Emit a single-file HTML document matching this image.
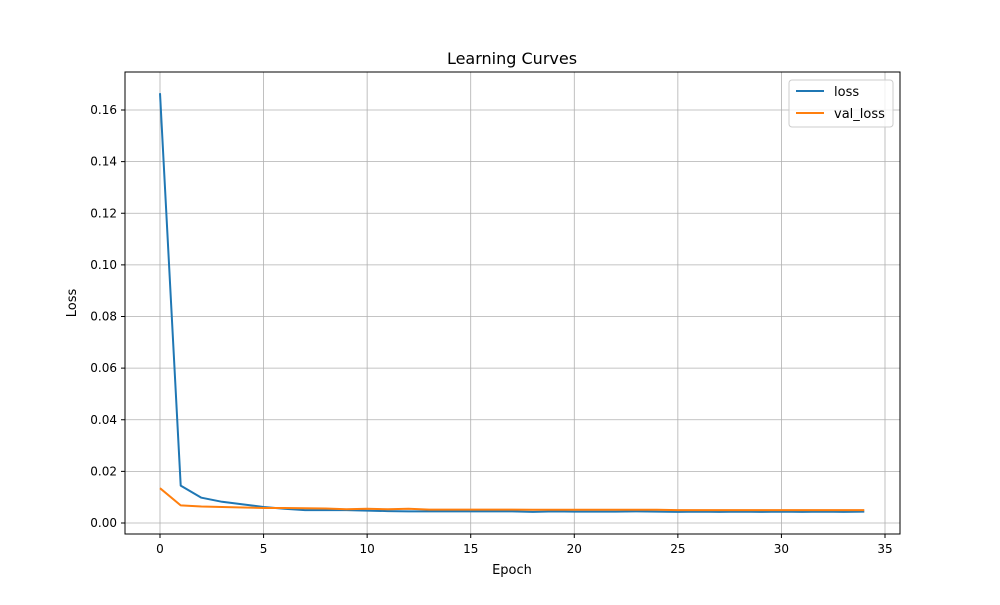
<!DOCTYPE html>
<html><head><meta charset="utf-8"><style>
body{margin:0;background:#fff;font-family:"Liberation Sans","DejaVu Sans",sans-serif;}
svg text{font-family:"DejaVu Sans","Liberation Sans",sans-serif;}
</style></head><body>
<svg id="chart" width="1000" height="600" xmlns="http://www.w3.org/2000/svg">
<rect width="1000" height="600" fill="#fff"/>
<g id="grid"></g>
<g id="ticks"></g>
<g id="lines"></g>
<rect x="125" y="72" width="775" height="462" fill="none" stroke="#000" stroke-width="1"/>
<text x="512" y="64" font-size="16" text-anchor="middle">Learning Curves</text>
<text x="512" y="574" font-size="13" text-anchor="middle">Epoch</text>
<text x="76" y="303" font-size="13" text-anchor="middle" transform="rotate(-90 76 303)">Loss</text>
<g>
<rect x="789" y="80" width="104" height="47" rx="3" fill="#fff" fill-opacity="0.8" stroke="#ccc"/>
<line x1="796" y1="91" x2="824" y2="91" stroke="#1f77b4" stroke-width="2"/>
<text x="834" y="96" font-size="13">loss</text>
<line x1="796" y1="113" x2="824" y2="113" stroke="#ff7f0e" stroke-width="2"/>
<text x="834" y="118" font-size="13">val_loss</text>
</g>
</svg>
<script>
const lossValues=[0.1665,0.0145,0.0098,0.0082,0.0072,0.0062,0.0055,0.005,0.005,0.005,0.0048,0.0046,0.0045,0.0045,0.0045,0.0045,0.0045,0.0045,0.0043,0.0045,0.0044,0.0044,0.0044,0.0045,0.0044,0.0043,0.0044,0.0043,0.0044,0.0043,0.0044,0.0043,0.0044,0.0043,0.0044];
const valLossValues=[0.0135,0.0068,0.0064,0.0062,0.006,0.0058,0.0058,0.0057,0.0056,0.0053,0.0055,0.0053,0.0055,0.0052,0.0052,0.0052,0.0052,0.0052,0.0051,0.0051,0.0051,0.0051,0.0051,0.0051,0.0051,0.005,0.005,0.005,0.005,0.005,0.005,0.005,0.005,0.005,0.005];
const xTicks=[0,5,10,15,20,25,30,35];
const yTicks=[0,0.02,0.04,0.06,0.08,0.10,0.12,0.14,0.16];
const yTickLabels=["0.00","0.02","0.04","0.06","0.08","0.10","0.12","0.14","0.16"];
const NS="http://www.w3.org/2000/svg";
function xs(v){return 160+v*(725/35);}
function ys(v){return 523-v*(413/0.16);}
function mk(tag,attrs,parent){const e=document.createElementNS(NS,tag);for(const k in attrs)e.setAttribute(k,attrs[k]);parent.appendChild(e);return e;}
const grid=document.getElementById('grid'),ticks=document.getElementById('ticks'),lines=document.getElementById('lines');
xTicks.forEach(t=>{const x=xs(t);
const g=mk('line',{x1:x,x2:x,y1:72,y2:534,stroke:'#b0b0b0','stroke-width':0.8},grid);


mk('line',{x1:x,x2:x,y1:534,y2:538,stroke:'#000'},ticks);
const tx=mk('text',{x:x,y:553,'font-size':12,'text-anchor':'middle'},ticks);tx.textContent=t;

});
yTicks.forEach((t,i)=>{const y=ys(t);
const g=mk('line',{x1:125,x2:900,y1:y,y2:y,stroke:'#b0b0b0','stroke-width':0.8},grid);


mk('line',{x1:121,x2:125,y1:y,y2:y,stroke:'#000'},ticks);
const tx=mk('text',{x:117,y:y+4,'font-size':12,'text-anchor':'end'},ticks);tx.textContent=yTickLabels[i];

});
function path(vals,color,name){const d=vals.map((v,i)=>(i?'L':'M')+xs(i).toFixed(1)+' '+ys(v).toFixed(1)).join(' ');
const p=mk('path',{d:d,fill:'none',stroke:color,'stroke-width':2,'stroke-linejoin':'round'},lines);

}
path(lossValues,'#1f77b4','loss-line');
path(valLossValues,'#ff7f0e','val-loss-line');
</script>
</body></html>
